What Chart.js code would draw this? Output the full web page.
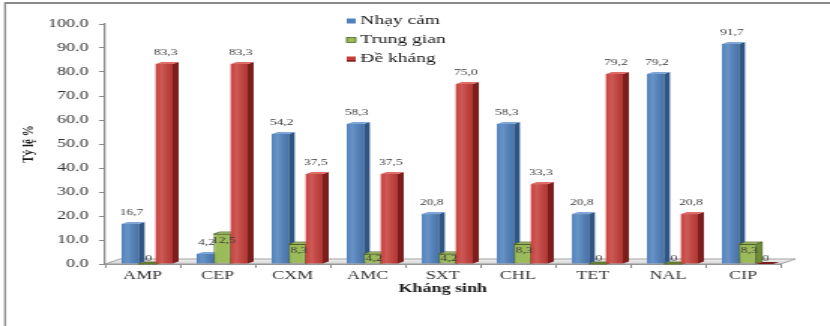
<!DOCTYPE html>
<html>
<head>
<meta charset="utf-8">
<script src="https://cdn.jsdelivr.net/npm/chart.js@4/dist/chart.umd.min.js"></script>
<style>
  html, body { margin: 0; padding: 0; background: #fff; overflow: hidden; }
  #chart { display: block; }
</style>
</head>
<body>
<!-- drawn on a narrower bitmap and widened by CSS, giving the wide lettering -->
<canvas id="chart" width="553" height="326" style="width:830px;height:326px"></canvas>
<script>
// ---- data ----
const categories = ['AMP', 'CEP', 'CXM', 'AMC', 'SXT', 'CHL', 'TET', 'NAL', 'CIP'];
const sensitive = [16.7, 4.2, 54.2, 58.3, 20.8, 58.3, 20.8, 79.2, 91.7];
const intermediate = [0, 12.5, 8.3, 4.2, 4.2, 8.3, 0, 0, 8.3];
const resistant = [83.3, 83.3, 37.5, 37.5, 75.0, 33.3, 79.2, 20.8, 0];
const seriesNames = ['Nhạy cảm', 'Trung gian', 'Đề kháng'];
const yTickValues = [0, 10, 20, 30, 40, 50, 60, 70, 80, 90, 100];
const xTitle = 'Kháng sinh';
const yTitle = 'Tỷ lệ %';

// ---- styling ----
const SERIF = '"Liberation Serif", "Times New Roman", serif';
const palette = [
  { front: '#4F81BD', side: '#2E5584', top: '#7FA5D6', edge: null,      shine: true },
  { front: '#9BBB59', side: '#6F8E35', top: '#BCD683', edge: '#4F6228', shine: false },
  { front: '#C63E3A', side: '#7C1E1C', top: '#DE6C67', edge: null,      shine: true }
];
const DEPTH_X = 4;    // side-face depth of each bar
const DEPTH_Y = 2;
const FLOOR_X = 10;   // floor depth
const FLOOR_Y = 5;
const BAR_SHIFT = 3;  // bars stand part-way back on the floor

const fmtValue = v => (v === 0 ? '0' : v.toFixed(1).replace('.', ','));

// Chart frame (top and left border of the chart box)
const framePlugin = {
  id: 'frame',
  beforeDraw(chart) {
    const { ctx, width, height } = chart;
    ctx.save();
    ctx.fillStyle = '#ffffff';
    ctx.fillRect(0, 0, width, height);
    ctx.fillStyle = '#8a8a8a';
    ctx.fillRect(3, 2, width - 3, 2);
    ctx.fillRect(2.7, 2, 1.35, height - 2);
    ctx.restore();
  }
};

// 3D-look bars: floor, then each series' fronts, side and top faces in order
const bars3dPlugin = {
  id: 'bars3d',
  beforeDatasetDraw() {
    return false; // series are painted below, in front-to-back order
  },
  afterDatasetsDraw(chart) {
    const { ctx, chartArea: a } = chart;

    // floor
    ctx.save();
    ctx.beginPath();
    ctx.moveTo(a.left, a.bottom);
    ctx.lineTo(a.right, a.bottom);
    ctx.lineTo(a.right + FLOOR_X, a.bottom - FLOOR_Y);
    ctx.lineTo(a.left + FLOOR_X, a.bottom - FLOOR_Y);
    ctx.closePath();
    const fg = ctx.createLinearGradient(0, a.bottom - FLOOR_Y, 0, a.bottom);
    fg.addColorStop(0, '#f4f4f4');
    fg.addColorStop(1, '#d2d2d2');
    ctx.fillStyle = fg;
    ctx.fill();
    ctx.strokeStyle = '#a0a0a0';
    ctx.lineWidth = 1;
    ctx.stroke();
    ctx.restore();

    ctx.save();
    ctx.translate(BAR_SHIFT, 0);

    chart.data.datasets.forEach((ds, i) => {
      const meta = chart.getDatasetMeta(i);
      if (!meta.visible) return;
      const pal = palette[i];
      meta.controller.draw();
      meta.data.forEach(el => {
        const { x, y, base, width } = el.getProps(['x', 'y', 'base', 'width'], true);
        const x0 = x - width / 2, x1 = x + width / 2;
        const top = Math.min(y, base);
        // light band on the front face
        if (pal.shine && base - top > 0) {
          const sg = ctx.createLinearGradient(x0, 0, x1, 0);
          sg.addColorStop(0, 'rgba(255,255,255,0.02)');
          sg.addColorStop(0.35, 'rgba(255,255,255,0.14)');
          sg.addColorStop(1, 'rgba(0,0,0,0.10)');
          ctx.fillStyle = sg;
          ctx.fillRect(x0, top, width, base - top);
        }
        // right side face
        ctx.beginPath();
        ctx.moveTo(x1, base);
        ctx.lineTo(x1 + DEPTH_X, base - DEPTH_Y);
        ctx.lineTo(x1 + DEPTH_X, top - DEPTH_Y);
        ctx.lineTo(x1, top);
        ctx.closePath();
        ctx.fillStyle = pal.side;
        ctx.fill();
        if (pal.edge) { ctx.strokeStyle = pal.edge; ctx.lineWidth = 0.8; ctx.stroke(); }
        // top face
        ctx.beginPath();
        ctx.moveTo(x0, top);
        ctx.lineTo(x1, top);
        ctx.lineTo(x1 + DEPTH_X, top - DEPTH_Y);
        ctx.lineTo(x0 + DEPTH_X, top - DEPTH_Y);
        ctx.closePath();
        ctx.fillStyle = base - top > 0 ? pal.top : pal.side;
        ctx.fill();
        if (pal.edge) { ctx.strokeStyle = pal.edge; ctx.lineWidth = 0.8; ctx.stroke(); }
      });
    });

    // value labels
    ctx.font = '9px ' + SERIF;
    ctx.fillStyle = '#3a3a3a';
    ctx.textAlign = 'center';
    ctx.textBaseline = 'middle';
    chart.data.datasets.forEach((ds, i) => {
      const meta = chart.getDatasetMeta(i);
      meta.data.forEach((el, j) => {
        const v = ds.data[j];
        const { x, y, base } = el.getProps(['x', 'y', 'base'], true);
        let ly;
        if (v === 0) ly = base - 5;
        else if (i === 1) ly = Math.min(y + 7, base - 5);
        else ly = y - 11;
        ctx.fillText(fmtValue(v), x + 1, ly);
      });
    });
    ctx.restore();
  }
};

// Vertical legend at the top centre of the plot
const legendPlugin = {
  id: 'stackedLegend',
  afterDraw(chart) {
    const { ctx } = chart;
    const rows = [21, 40, 59];
    ctx.save();
    ctx.font = '13px ' + SERIF;
    ctx.textAlign = 'left';
    ctx.textBaseline = 'middle';
    chart.data.datasets.forEach((ds, i) => {
      const pal = palette[i];
      const yc = rows[i];
      ctx.fillStyle = pal.front;
      ctx.fillRect(231, yc - 2.5, 6, 5);
      if (pal.edge) {
        ctx.strokeStyle = pal.edge;
        ctx.lineWidth = 0.8;
        ctx.strokeRect(231, yc - 2.5, 6, 5);
      } else if (i === 2) {
        ctx.fillStyle = pal.side;
        ctx.fillRect(231, yc + 1, 6, 1.5);
      }
      ctx.fillStyle = '#1a1a1a';
      ctx.fillText(ds.label, 240, yc);
    });
    ctx.restore();
  }
};

const datasets = [sensitive, intermediate, resistant].map((values, i) => ({
  label: seriesNames[i],
  data: values,
  backgroundColor: palette[i].front,
  borderColor: palette[i].edge || palette[i].front,
  borderWidth: palette[i].edge ? 0.8 : 0,
  borderSkipped: false,
  categoryPercentage: 0.68,
  barPercentage: 1.0,
  clip: false
}));

new Chart(document.getElementById('chart'), {
  type: 'bar',
  data: { labels: categories, datasets },
  options: {
    responsive: false,
    devicePixelRatio: 1,
    animation: false,
    layout: { padding: { top: 24, right: 33, bottom: 0, left: 0 } },
    plugins: {
      legend: { display: false },
      tooltip: { enabled: false }
    },
    scales: {
      x: {
        offset: true,
        grid: {
          offset: true,
          drawOnChartArea: false,
          drawTicks: true,
          tickLength: 4,
          color: '#8c8c8c',
          lineWidth: 1
        },
        border: { display: true, color: '#8c8c8c', width: 1 },
        ticks: {
          font: { family: SERIF, size: 12 },
          color: '#333333',
          padding: 1,
          maxRotation: 0,
          autoSkip: false
        },
        title: {
          display: true,
          text: xTitle,
          font: { family: SERIF, size: 12, weight: 'bold' },
          color: '#1a1a1a',
          padding: { top: 0, bottom: 30 }
        },
        afterFit(scale) { scale.height = 62; }
      },
      y: {
        min: 0,
        max: 100,
        afterBuildTicks(scale) { scale.ticks = yTickValues.map(v => ({ value: v })); },
        grid: {
          drawOnChartArea: false,
          drawTicks: true,
          tickLength: 4,
          color: '#8c8c8c',
          lineWidth: 1
        },
        border: { display: true, color: '#8c8c8c', width: 1.3 },
        ticks: {
          font: { family: SERIF, size: 12 },
          color: '#333333',
          padding: 7,
          callback: v => Number(v).toFixed(1)
        },
        title: {
          display: true,
          text: yTitle,
          font: { family: SERIF, size: 11, weight: 'bold' },
          color: '#1a1a1a',
          padding: { top: 13, bottom: 0 }
        },
        afterFit(scale) { scale.width = 70; }
      }
    }
  },
  plugins: [framePlugin, bars3dPlugin, legendPlugin]
});
</script>
</body>
</html>
